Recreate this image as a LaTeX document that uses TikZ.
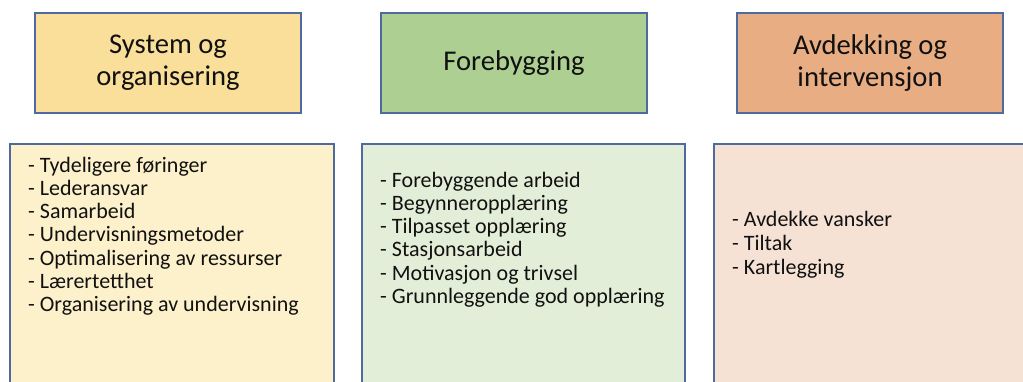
\documentclass[tikz,border=0pt]{standalone}
\usepackage{fontspec}
\setmainfont{Carlito}
\definecolor{edge}{HTML}{4F6A9E}
\definecolor{hdrA}{HTML}{FADF9A}
\definecolor{hdrB}{HTML}{ADD092}
\definecolor{hdrC}{HTML}{E9AD84}
\definecolor{bodyA}{HTML}{FDF1CB}
\definecolor{bodyB}{HTML}{E3EED8}
\definecolor{bodyC}{HTML}{F6E2D5}
\definecolor{ink}{HTML}{111111}
\tikzset{
  hdrbox/.style={draw=edge, line width=1.6pt, minimum width=266pt, minimum height=100pt,
    inner sep=0pt, align=center, text=ink, font=\fontsize{28.6}{31.7}\selectfont},
  bodybox/.style={draw=edge, line width=1.6pt, anchor=north west, minimum height=300pt, inner sep=0pt},
  item/.style={anchor=base west, inner sep=0pt, text=ink, font=\fontsize{22}{23.3}\selectfont}
}
\begin{document}
\begin{tikzpicture}[x=1pt,y=-1pt]
\clip (0,0) rectangle (1023,381);
\fill[white] (0,0) rectangle (1023,381);
% headers
\node[hdrbox, fill=hdrA] (h1) at (168,63) {System og\\organisering};
\node[hdrbox, fill=hdrB] (h2) at (514,63) {Forebygging};
\node[hdrbox, fill=hdrC] (h3) at (870,63) {Avdekking og\\intervensjon};
% body boxes
\node[bodybox, fill=bodyA, minimum width=324pt] (b1) at (9,143) {};
\node[bodybox, fill=bodyB, minimum width=323pt] (b2) at (361,143) {};
\node[bodybox, fill=bodyC, minimum width=340pt] (b3) at (713,143) {};
% items
\foreach \t [count=\i] in {Tydeligere føringer, Lederansvar, Samarbeid, Undervisningsmetoder,
  Optimalisering av ressurser, Lærertetthet, Organisering av undervisning}
  \node[item] (a\i) at (28,{172+23.3*(\i-1)}) {- \t};
\foreach \t [count=\i] in {Forebyggende arbeid, Begynneropplæring, Tilpasset opplæring,
  Stasjonsarbeid, Motivasjon og trivsel, Grunnleggende god opplæring}
  \node[item] (f\i) at (380,{187+23.3*(\i-1)}) {- \t};
\foreach \t [count=\i] in {Avdekke vansker, Tiltak, Kartlegging}
  \node[item] (v\i) at (732,{226+24.3*(\i-1)}) {- \t};
\end{tikzpicture}
\end{document}
